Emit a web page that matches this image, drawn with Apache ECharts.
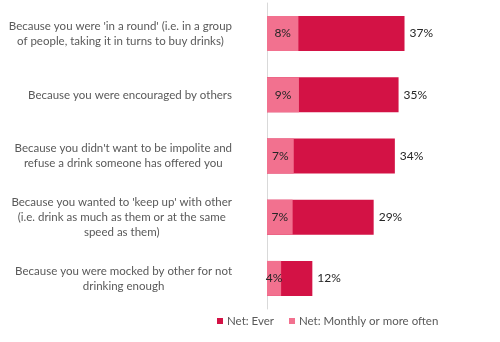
<!DOCTYPE html>
<html><head><meta charset="utf-8">
<script src="https://cdn.jsdelivr.net/npm/echarts@6/dist/echarts.min.js"></script>
<style>html,body{margin:0;padding:0;background:#fff}#c{width:500px;height:342px}</style>
</head><body><div id="c"></div>
<script>
var categories = [
  "Because you were 'in a round' (i.e. in a group\nof people, taking it in turns to buy drinks)",
  "Because you were encouraged by others",
  "Because you didn't want to be impolite and\nrefuse a drink someone has offered you",
  "Because you wanted to 'keep up' with other\n(i.e. drink as much as them or at the same\nspeed as them)",
  "Because you were mocked by other for not\ndrinking enough"
];
var netEver = [37.0, 35.4, 34.4, 28.7, 12.2];
var netMonthly = [8.45, 8.6, 7.2, 6.9, 3.8];
var seriesNames = ["Net: Ever", "Net: Monthly or more often"];

var chart = echarts.init(document.getElementById('c'));
var FONT = 'Lato';
function pct(p){ return Math.round(p.value) + '%'; }
chart.setOption({
  animation: false,
  textStyle: {fontFamily: FONT},
  legend: {
    data: seriesNames,
    bottom: 10, left: 212,
    itemWidth: 6, itemHeight: 6, itemGap: 15,
    icon: 'rect',
    textStyle: {fontFamily: FONT, fontSize: 11.5, color: '#595959', padding: [0,0,0,-1]}
  },
  grid: {left: 267, right: 10, top: 3, bottom: 33},
  xAxis: {type: 'value', min: 0, max: 60, show: false, splitLine: {show: false}},
  yAxis: {
    type: 'category', data: categories, inverse: true,
    axisLine: {show: true, lineStyle: {color: '#D9D9D9', width: 1}},
    axisTick: {show: false},
    axisLabel: {
      margin: 35, align: 'right', color: '#595959', fontFamily: FONT, fontSize: 11.5, lineHeight: 15,
      formatter: function(v){ return v.split('\n').map(function(l){return '{c|' + l + '}';}).join('\n'); },
      rich: {c: {align: 'center', color: '#595959', fontFamily: FONT, fontSize: 11.5, lineHeight: 15}}
    }
  },
  series: [
    {
      name: seriesNames[0], type: 'bar', data: netEver, barWidth: 35, barGap: '-100%',
      itemStyle: {color: '#D31245'},
      label: {show: true, position: 'right', distance: 5, formatter: pct, color: '#262626', fontFamily: FONT, fontSize: 12}
    },
    {
      name: seriesNames[1], type: 'bar', data: netMonthly, barWidth: 35, barGap: '-100%',
      itemStyle: {color: '#F2718F'},
      label: {show: true, position: 'inside', formatter: pct, color: '#262626', fontFamily: FONT, fontSize: 12}
    }
  ]
});
</script></body></html>
